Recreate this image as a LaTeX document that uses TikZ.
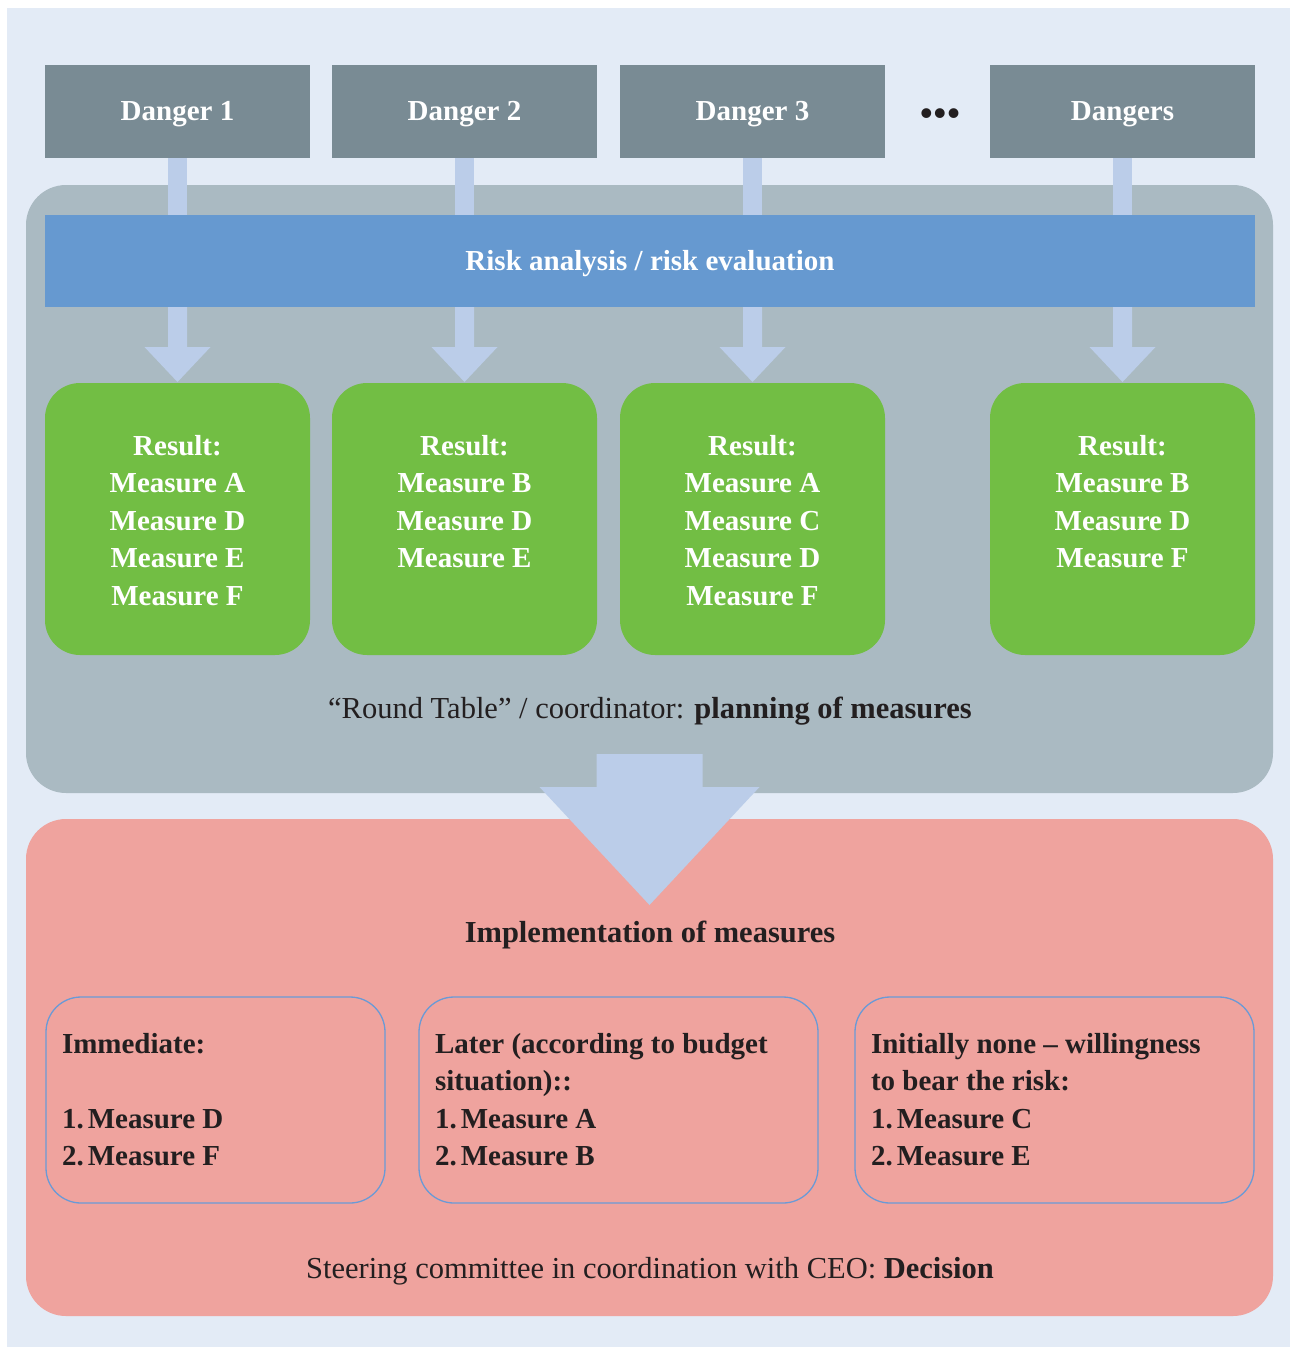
\documentclass[tikz,border=0pt]{standalone}
\usepackage{fontspec}
\setmainfont{Liberation Serif}
\usetikzlibrary{calc}
\definecolor{bgblue}{HTML}{E3EBF6}
\definecolor{dgray}{HTML}{798B94}
\definecolor{cgray}{HTML}{AABAC2}
\definecolor{barblue}{HTML}{6699D0}
\definecolor{conn}{HTML}{BBCDE9}
\definecolor{rgreen}{HTML}{72BE44}
\definecolor{rpink}{HTML}{EFA39E}
\definecolor{lineblue}{HTML}{6A9AD6}
\definecolor{ink}{HTML}{231F20}
\newcommand{\nsp}{\hspace{0.14em}}
\begin{document}
\begin{tikzpicture}[x=1pt,y=-1pt,
  every node/.style={inner sep=0pt,outer sep=0pt},
  danger/.style={fill=dgray,minimum width=265pt,minimum height=93pt,text=white,
    font=\fontsize{29}{37.5}\selectfont\bfseries,text height=17pt,text depth=0pt},
  container/.style={rounded corners=40pt,minimum width=1247pt},
  result/.style={fill=rgreen,rounded corners=35pt,minimum width=265pt,minimum height=272pt},
  restext/.style={anchor=north,align=center,text=white,font=\fontsize{29}{37.5}\selectfont\bfseries},
  choice/.style={draw=lineblue,line width=1.3pt,rounded corners=35pt,minimum height=206pt},
  choicetext/.style={anchor=north west,align=left,text=ink,font=\fontsize{29}{37.5}\selectfont\bfseries},
  caption/.style={anchor=base,text=ink,font=\fontsize{30.5}{37.5}\selectfont},
  conn/.style={fill=conn}
]
\useasboundingbox (0,0) rectangle (1290,1347);
\fill[bgblue] (7,8) rectangle (1290,1347);

% containers
\node[container,fill=cgray,minimum height=608pt] (plan) at (649.5,489) {};
\node[container,fill=rpink,minimum height=497pt] (pink) at (649.5,1067.5) {};

% dangers
\node[danger] (d1) at (177.5,111.5) {Danger 1};
\node[danger] (d2) at (464.5,111.5) {Danger 2};
\node[danger] (d3) at (752.5,111.5) {Danger 3};
\node[danger] (d4) at (1122.5,111.5) {Dangers};
\node[text=ink,font=\fontsize{36}{36}\selectfont\bfseries] (dots) at (940,117) {•\kern1pt•\kern1pt•};

% results
\node[result] (g1) at (177.5,519) {};
\node[result] (g2) at (464.5,519) {};
\node[result] (g3) at (752.5,519) {};
\node[result] (g4) at (1122.5,519) {};

% stems from dangers to the bar
\coordinate (barc) at (650,261);
\foreach \d in {d1,d2,d3,d4}{
  \fill[conn] ($(\d.south)+(-9.5,0)$) rectangle ($(\d.south)+(9.5,60)$);
}
\node[fill=barblue,minimum width=1210pt,minimum height=92pt,text=white,
  font=\fontsize{29}{37.5}\selectfont\bfseries,text height=18pt,text depth=0pt] (bar) at (barc) {Risk analysis / risk evaluation};
\foreach \g in {g1,g2,g3,g4}{
  \fill[conn] ($(bar.south -| \g.north)+(-9.5,0)$) -- ++(0,40) -- ++(-23.5,0) -- ($(\g.north)+(0,-1)$)
    -- ($(bar.south -| \g.north)+(33,40)$) -- ++(-23.5,0) -- ++(0,-40) -- cycle;
}

\node[restext] (t1) at ($(g1.north)+(0,52)$) {Result:\\Measure A\\Measure D\\Measure E\\Measure F};
\node[restext] (t2) at ($(g2.north)+(0,52)$) {Result:\\Measure B\\Measure D\\Measure E};
\node[restext] (t3) at ($(g3.north)+(0,52)$) {Result:\\Measure A\\Measure C\\Measure D\\Measure F};
\node[restext] (t4) at ($(g4.north)+(0,52)$) {Result:\\Measure B\\Measure D\\Measure F};

\node[caption] (plancap) at (650,718) {“Round Table” / coordinator: \textbf{planning of measures}};

% big arrow
\fill[conn] ($(plan.south)+(-53,-39)$) -- ($(plan.south)+(-53,-6)$) -- ($(plan.south)+(-110,-6)$)
  -- ($(pink.north)+(0,86)$) -- ($(plan.south)+(110,-6)$) -- ($(plan.south)+(53,-6)$)
  -- ($(plan.south)+(53,-39)$) -- cycle;

\node[caption,font=\fontsize{30.5}{37.5}\selectfont\bfseries] (impl) at (650,942) {Implementation of measures};

\node[choice,minimum width=339pt] (c1) at (215.5,1100) {};
\node[choice,minimum width=399pt] (c2) at (618.5,1100) {};
\node[choice,minimum width=399pt] (c3) at (1054.5,1100) {};
\node[choicetext] (ct1) at ($(c1.north west)+(16,36)$) {Immediate:\\ ~\\1.\nsp Measure D\\2.\nsp Measure F};
\node[choicetext] (ct2) at ($(c2.north west)+(16,36)$) {Later (according to budget\\situation)::\\1.\nsp Measure A\\2.\nsp Measure B};
\node[choicetext] (ct3) at ($(c3.north west)+(16,36)$) {Initially none – willingness\\to bear the risk:\\1.\nsp Measure C\\2.\nsp Measure E};

\node[caption] (steer) at (650,1278) {Steering committee in coordination with CEO: \textbf{Decision}};
\end{tikzpicture}
\end{document}
